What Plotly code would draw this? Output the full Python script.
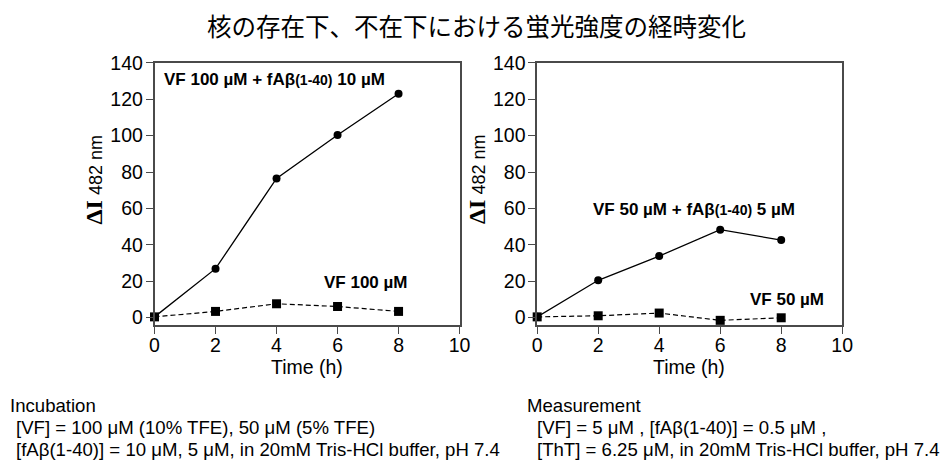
import plotly.graph_objects as go

# ---- data ----
time_h = [0, 2, 4, 6, 8]
left_vf_fab = [0.4, 26.9, 76.5, 100.3, 123.0]     # VF 100 uM + fAβ(1-40) 10 uM
left_vf_only = [0.4, 3.4, 7.6, 6.1, 3.4]          # VF 100 uM
right_vf_fab = [0.4, 20.5, 33.8, 48.3, 42.6]      # VF 50 uM + fAβ(1-40) 5 uM
right_vf_only = [0.4, 1.0, 2.5, -1.5, -0.1]       # VF 50 uM
x_ticks = [0, 2, 4, 6, 8, 10]
y_ticks = [0, 20, 40, 60, 80, 100, 120, 140]

W, H = 949, 462
FONT = "Arial, Liberation Sans, Helvetica, sans-serif"
FRAME = "#4a4a4a"

# map a position in the photographed picture to page pixels
def page_x(t):
    return (t - 6.2) / 0.983

def page_y(t):
    return (t - 8.8) / 0.973

def px_x(t):
    return page_x(t) / W

def px_y(t):
    return 1 - page_y(t) / H

fig = go.Figure()

def add_pair(xa, ya, solid, dashed):
    fig.add_trace(go.Scatter(x=time_h, y=solid, xaxis=xa, yaxis=ya, mode="lines+markers",
                             line=dict(color="black", width=1.3),
                             marker=dict(symbol="circle", size=8, color="black"),
                             showlegend=False, cliponaxis=False))
    fig.add_trace(go.Scatter(x=time_h, y=dashed, xaxis=xa, yaxis=ya, mode="lines+markers",
                             line=dict(color="black", width=1.2, dash="5px,3px"),
                             marker=dict(symbol="square", size=9, color="black"),
                             showlegend=False, cliponaxis=False))

add_pair("x", "y", left_vf_fab, left_vf_only)
add_pair("x2", "y2", right_vf_fab, right_vf_only)

xdom1 = [px_x(155.7), px_x(460.7)]
xdom2 = [px_x(538.3), px_x(843.3)]
ydom = [px_y(324.3), px_y(60.7)]

axis_common = dict(showline=True, linecolor=FRAME, linewidth=1.5, mirror=True,
                   ticks="outside", ticklen=7, tickwidth=1.2, tickcolor=FRAME,
                   showgrid=False, zeroline=False,
                   tickfont=dict(family=FONT, size=19.5, color="black"))

fig.update_layout(
    width=W, height=H,
    margin=dict(l=0, r=0, t=0, b=0),
    paper_bgcolor="white", plot_bgcolor="white",
    xaxis=dict(domain=xdom1, anchor="y", range=[0, 10], tickvals=x_ticks,
               ticklabelstandoff=-6, **axis_common),
    yaxis=dict(domain=ydom, anchor="x", range=[-4.3, 140.05], tickvals=y_ticks,
               ticklabelstandoff=-1, **axis_common),
    xaxis2=dict(domain=xdom2, anchor="y2", range=[0, 10], tickvals=x_ticks,
                ticklabelstandoff=-6, **axis_common),
    yaxis2=dict(domain=ydom, anchor="x2", range=[-4.3, 140.05], tickvals=y_ticks,
                ticklabelstandoff=-1, **axis_common),
)

ann = []

def add_text(text, x, y, font, xanchor="left", yanchor="middle", angle=0):
    ann.append(dict(text=text, x=px_x(x), y=px_y(y), xref="paper", yref="paper",
                    showarrow=False, xanchor=xanchor, yanchor=yanchor, textangle=angle,
                    align="left", font=font))

# title
add_text("核の存在下、不在下における蛍光強度の経時変化", 477.5, 23.3,
         dict(family="Noto Sans CJK JP", size=24.5, color="black"), xanchor="center")

# y axis titles
ytitle = ("<span style='font-family:Liberation Serif;font-size:24px'><b>ΔI</b></span>"
          " <span style='font-size:18px'>482 nm</span>")
for xc in (95, 477.5):
    add_text(ytitle, xc, 178, dict(family=FONT, size=18, color="black"),
             xanchor="center", angle=-90)

# x axis titles
for xc in (308.5, 690.5):
    add_text("Time (h)", xc, 366, dict(family=FONT, size=19.5, color="black"), xanchor="center")

# in-plot labels
bold = dict(family=FONT, size=17, color="black")
sub = "<span style='font-size:14px'>(1-40)</span>"
add_text(f"<b>VF 100 µM + fAβ{sub} 10 µM</b>", 163.5, 77.7, bold)
add_text("<b>VF 100 µM</b>", 323.2, 281.7, bold)
add_text(f"<b>VF 50 µM + fAβ{sub} 5 µM</b>", 592.5, 207.7, bold)
add_text("<b>VF 50 µM</b>", 749.5, 298.3, bold)

# bottom notes (one annotation per line)
note_font = dict(family=FONT, size=18.6, color="black")
add_text("Incubation", 9.5, 405, note_font)
add_text("[VF] = 100 μM (10% TFE), 50 μM (5% TFE)", 15.5, 426.7, note_font)
add_text("[fAβ(1-40)] = 10 μM, 5 μM, in 20mM Tris-HCl buffer, pH 7.4", 15.5, 449, note_font)
add_text("Measurement", 526, 405, note_font)
add_text("[VF] = 5 μM , [fAβ(1-40)] = 0.5 μM ,", 536, 426.7, note_font)
add_text("[ThT] = 6.25 μM, in 20mM Tris-HCl buffer, pH 7.4", 536, 449, note_font)

fig.update_layout(annotations=ann)
fig.write_html("out.html", config={"displayModeBar": False},
               post_script="document.body.style.margin='0';")
